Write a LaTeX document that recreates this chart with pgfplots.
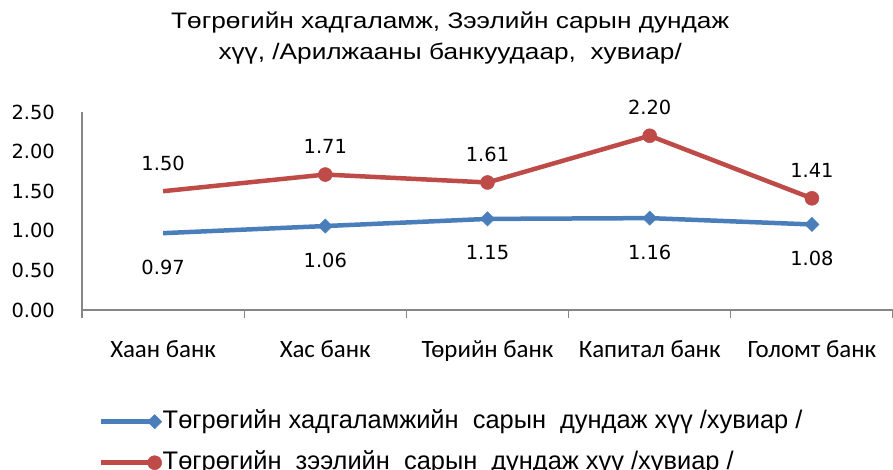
\documentclass[border=0pt]{standalone}
\usepackage{pgfplots}
\pgfplotsset{compat=1.18}
\usepackage{fontspec}
\setmainfont{Liberation Sans}
\newfontfamily\titlefont[FakeStretch=1.17]{Liberation Sans}
\newfontfamily\dejavu{DejaVu Sans}
\newfontfamily\carlito{Carlito}
\definecolor{sblue}{HTML}{4A7EBB}
\definecolor{sred}{HTML}{BE4B48}
\definecolor{axgray}{HTML}{868686}

\pgfplotstableread{
x savings loans
0 0.97 1.50
1 1.06 1.71
2 1.15 1.61
3 1.16 2.20
4 1.08 1.41
}\rates

\begin{document}
\begin{tikzpicture}[x=1bp,y=1bp]
\useasboundingbox (0,0) rectangle (893,470);
\begin{axis}[
  at={(82bp,160bp)}, anchor=south west,
  scale only axis, width=811bp, height=198bp,
  xmin=-0.5, xmax=4.5, ymin=0, ymax=2.5,
  axis x line=bottom, axis y line=left,
  axis line style={draw=axgray, line width=1.2bp, -},
  xtick={0,...,4},
  xticklabels={Хаан банк, Хас банк, Төрийн банк, Капитал банк, Голомт банк},
  minor xtick={-0.5,0.5,...,4.5},
  major tick length=0pt, minor tick length=8bp,
  tick align=outside,
  minor tick style={draw=axgray, line width=1.2bp},
  ytick={0,0.5,...,2.5},
  /pgf/number format/assume math mode=true,
  yticklabel={\pgfmathprintnumber[fixed,fixed zerofill,precision=2]{\tick}},
  yticklabel style={font=\dejavu\fontsize{19.5}{19.5}\selectfont, anchor=east, inner sep=0pt, xshift=-27bp},
  xticklabel style={font=\carlito\fontsize{25}{25}\selectfont, anchor=base, inner sep=0pt, yshift=-48bp},
  title={Төгрөгийн хадгаламж, Зээлийн сарын дундаж\\хүү, /Арилжааны банкуудаар,\ \ хувиар/},
  title style={at={(axis description cs:0.454,1.345)}, anchor=center, align=center,
    font=\titlefont\fontsize{22.5}{31}\selectfont, inner sep=0pt},
  legend image code/.code={\draw[#1, mark phase=2, mark repeat=1] plot coordinates {(0bp,0bp) (54bp,0bp)};},
  legend style={at={(axis description cs:0.02,-0.5)}, anchor=north west, draw=none, fill=none,
    font=\fontsize{25.5}{25.5}\selectfont, row sep=16bp, inner sep=0pt,
    nodes={inner sep=1bp, text height=18bp, text depth=5bp}},
  legend cell align=left,
  clip=false,
]
\addplot[sblue, line width=4.5bp, mark=square*, mark phase=2, mark size=5bp,
  mark options={rotate=45, solid, line width=0.5bp}]
  table[x=x, y=savings] {\rates};
\addlegendentry{Төгрөгийн хадгаламжийн\ \ сарын\ \ дундаж хүү /хувиар /}
\addplot[sred, line width=4.5bp, mark=*, mark phase=2, mark size=7bp,
  mark options={solid, line width=0.5bp}]
  table[x=x, y=loans] {\rates};
\addlegendentry{Төгрөгийн\ \ зээлийн\ \ сарын\ \ дундаж хүү /хувиар /}
% data labels
\addplot[draw=none, mark=none, forget plot, nodes near coords,
  point meta=explicit symbolic,
  every node near coord/.append style={font=\dejavu\fontsize{19.5}{19.5}\selectfont, text=black, anchor=center, yshift=-34bp}]
  table[x=x, y=savings, meta=savings] {\rates};
\addplot[draw=none, mark=none, forget plot, nodes near coords,
  point meta=explicit symbolic,
  every node near coord/.append style={font=\dejavu\fontsize{19.5}{19.5}\selectfont, text=black, anchor=center, yshift=28bp}]
  table[x=x, y=loans, meta=loans] {\rates};
\end{axis}
\end{tikzpicture}
\end{document}
